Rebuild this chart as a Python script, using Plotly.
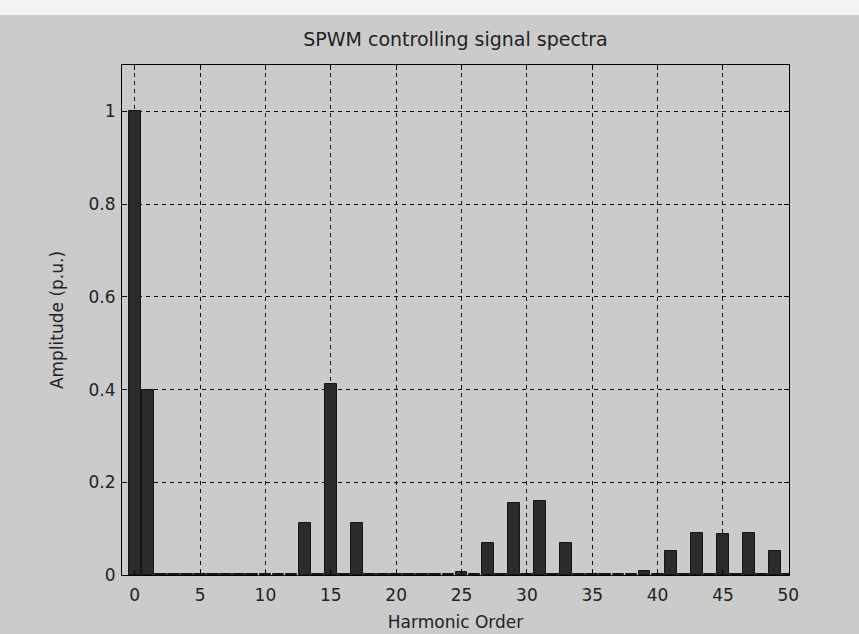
import plotly.graph_objects as go

harmonic_order = list(range(0, 51))
amplitude = [
    1.000, 0.400, 0.002, 0.002, 0.002, 0.002, 0.002, 0.002, 0.002, 0.002,
    0.002, 0.002, 0.002, 0.112, 0.002, 0.412, 0.002, 0.112, 0.002, 0.002,
    0.002, 0.002, 0.002, 0.002, 0.002, 0.007, 0.002, 0.068, 0.002, 0.156,
    0.002, 0.160, 0.002, 0.068, 0.002, 0.002, 0.002, 0.002, 0.002, 0.008,
    0.002, 0.052, 0.002, 0.091, 0.002, 0.088, 0.002, 0.091, 0.002, 0.052,
    0.002,
]
x_ticks = [0, 5, 10, 15, 20, 25, 30, 35, 40, 45, 50]
y_ticks = [0, 0.2, 0.4, 0.6, 0.8, 1]
y_tick_text = ["0", "0.2", "0.4", "0.6", "0.8", "1"]

FONT = "DejaVu Sans, Verdana, sans-serif"
TXT = "#222222"

fig = go.Figure()
fig.add_trace(go.Bar(
    x=harmonic_order,
    y=amplitude,
    width=0.9,
    marker=dict(color="#2b2b2b", line=dict(color="#151515", width=1)),
    showlegend=False,
))

axis_common = dict(
    showline=True, linecolor="black", linewidth=1.2, mirror="ticks",
    ticks="inside", ticklen=5, tickcolor="black",
    showgrid=True, gridcolor="#111111", gridwidth=1.2, griddash="4px,4px",
    zeroline=False, automargin=False,
    tickfont=dict(family=FONT, size=17, color=TXT),
)

fig.update_layout(
    width=859, height=634,
    margin=dict(l=122, r=70, t=65, b=59),
    paper_bgcolor="#f2f2f2",
    plot_bgcolor="white",
    font=dict(family=FONT, color=TXT),
    title=dict(text="SPWM controlling signal spectra", x=0.5, xref="paper",
               xanchor="center", y=1 - 39 / 634, yanchor="middle",
               font=dict(family=FONT, size=19, color=TXT)),
    bargap=0,
    xaxis=dict(range=[-0.97, 50.05], tickvals=x_ticks, ticklabelstandoff=4,
               title=dict(text="Harmonic Order", standoff=12,
                          font=dict(family=FONT, size=17, color=TXT)),
               **axis_common),
    yaxis=dict(range=[0, 1.1], tickvals=y_ticks, ticktext=y_tick_text,
               ticklabelstandoff=2,
               title=dict(text="Amplitude (p.u.)", standoff=20,
                          font=dict(family=FONT, size=17, color=TXT)),
               **axis_common),
    shapes=[dict(type="rect", xref="paper", yref="paper",
                 x0=-0.2, x1=1.2, y0=-0.2, y1=1 + 50 / 510,
                 fillcolor="#cbcbcb", line=dict(width=0), layer="below")],
)

fig.write_html("out.html", config={"displayModeBar": False},
               post_script="document.body.style.margin='0px';")
